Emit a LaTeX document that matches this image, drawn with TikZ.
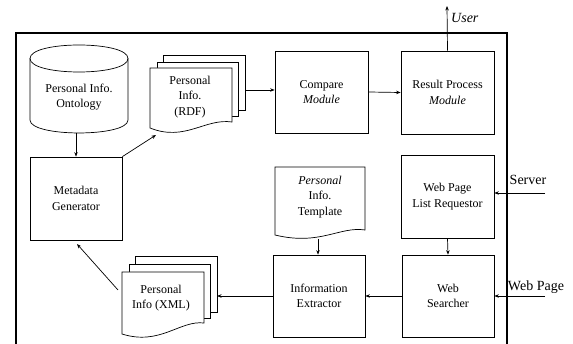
\documentclass[tikz,border=0pt]{standalone}
\usepackage{fontspec}
\setmainfont{Liberation Serif}
\usetikzlibrary{arrows.meta,calc}
\begin{document}
\begin{tikzpicture}[x=1pt,y=-1pt,
  every node/.style={font=\fontsize{12}{15.5}\selectfont, align=center, inner sep=0pt},
  modbox/.style={draw, line width=0.7pt, minimum width=93pt, minimum height=83pt},
  page/.style={draw, line width=0.7pt, fill=white},
  conn/.style={line width=0.7pt, -{Stealth[length=4.5pt,width=3.5pt]}},
  outlabel/.style={font=\fontsize{14}{16}\selectfont, anchor=center}
]
\useasboundingbox (0,0) rectangle (573,344);
% outer frame
\draw[line width=1.6pt] (16,344) -- (16,33) -- (507,33) -- (507,344);

% cylinder
\draw[page] (30,58.5) -- (30,120) .. controls (30,137.3) and (128,137.3) .. (128,120) -- (128,58.5) .. controls (128,40.5) and (30,40.5) .. (30,58.5) -- cycle;
\draw[line width=0.7pt] (30,58.5) .. controls (30,76.5) and (128,76.5) .. (128,58.5);
\node (onto) at (79,97) {Personal Info.\\Ontology};
\coordinate (cylb) at (76,133);

% RDF documents
\draw[page] (163,55) rectangle (245,110);
\draw[page] (157,62) rectangle (238,116);
\draw[page] (150,68) -- (232,68) -- (232,122) .. controls (205,118) and (185,142) .. (150,128) -- cycle;
\node (rdf) at (190,97) {Personal\\Info.\\(RDF)};
\coordinate (rdfbl) at (156,135);
\coordinate (rdfR) at (245,90);

% modules
\node[modbox, minimum width=92pt] (meta) at (76,198.5) {Metadata\\Generator};
\node[modbox, minimum height=82pt] (compare) at (321.5,92) {Compare\\\textit{Module}};
\node[modbox] (result) at (447.5,92.5) {Result Process\\\textit{Module}};
\node[modbox] (req) at (447.5,196.5) {Web Page\\List Requestor};
\node[modbox, minimum width=92pt, minimum height=82pt] (search) at (448,296) {Web\\Searcher};
\node[modbox, minimum width=92pt, minimum height=82pt] (extract) at (319,296) {Information\\Extractor};

% template document
\draw[page] (275,167) -- (365,167) -- (365,230) .. controls (340,226) and (320,246) .. (275,235) -- cycle;
\node (tmpl) at (320,197) {\textit{Personal}\\Info.\\Template};
\coordinate (tmplb) at (318,239);

% XML documents
\draw[page] (135,256) rectangle (217,312);
\draw[page] (129,264) rectangle (210,318);
\draw[page] (122,272) -- (204,272) -- (204,323) .. controls (180,320) and (160,346) .. (122,334) -- cycle;
\node (xml) at (161,298) {Personal\\Info (XML)};
\coordinate (xmlR) at (217,293);
\coordinate (xmlL) at (118,290);
\coordinate (metab) at (77,244);

% external
\coordinate (user) at (447,6);
\coordinate (server) at (545,193);
\coordinate (webpage) at (545,296);
\node[outlabel, anchor=west] (userlbl) at (451,18) {\textit{User}};
\node[outlabel] (serverlbl) at (528,180) {Server};
\node[outlabel] (webpagelbl) at (536,287) {Web Page};

% connectors
\draw[conn] (cylb) -- (meta.north);
\draw[conn] (meta.north east) -- (rdfbl);
\draw[conn] (rdfR) -- (rdfR -| compare.west);
\draw[conn] (compare.east) -- (result.west);
\draw[conn] (result.north) -- (user);
\draw[conn] (server) -- (server -| req.east);
\draw[conn] (webpage) -- (webpage -| search.east);
\draw[conn] (req.south) -- (search.north);
\draw[conn] (search.west) -- (extract.east);
\draw[conn] (tmplb) -- (tmplb |- extract.north);
\draw[conn] (extract.west) -- (extract.west -| xmlR);
\draw[conn] (xmlL) -- (metab);
\end{tikzpicture}
\end{document}
